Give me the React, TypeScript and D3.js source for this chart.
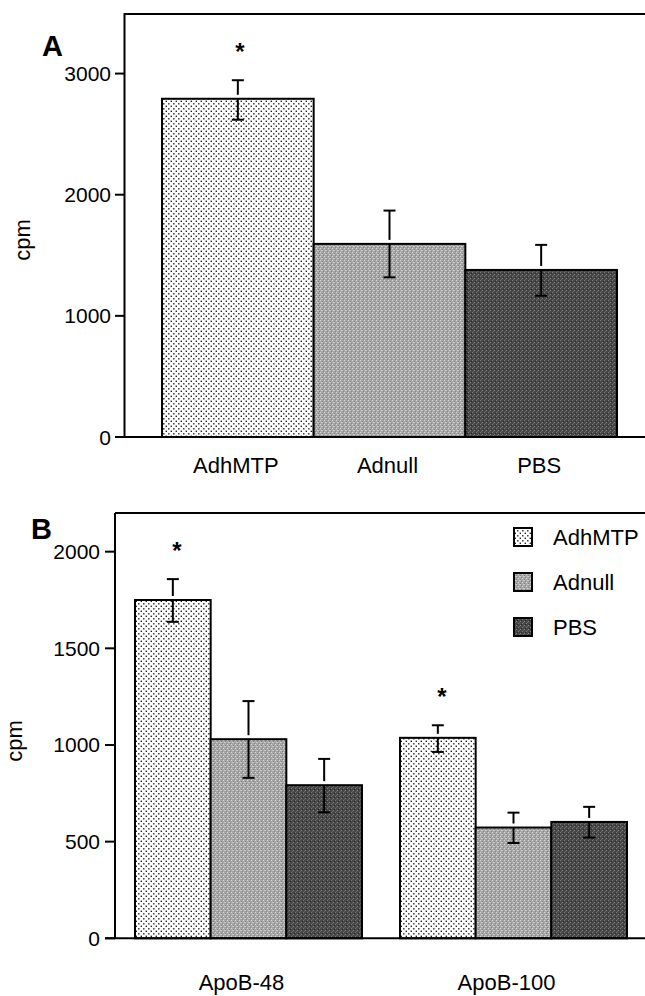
import React from 'react';
import * as d3 from 'd3';

// panel A: total counts per treatment
const categoriesA = ['AdhMTP', 'Adnull', 'PBS'];
const valuesA = [2792, 1594, 1379];
const errHighA = [2945, 1869, 1586];
const errLowA = [2619, 1318, 1166];
const starsA = [true, false, false];
const ticksA = [0, 1000, 2000, 3000];

// panel B: apoB-48 / apoB-100 split
const groupsB = ['ApoB-48', 'ApoB-100'];
const seriesB = ['AdhMTP', 'Adnull', 'PBS'];
const adhMTPB = [1750, 1037];
const adnullB = [1030, 573];
const pbsB = [792, 602];
const adhMTPHighB = [1858, 1102];
const adnullHighB = [1227, 650];
const pbsHighB = [928, 680];
const adhMTPLowB = [1637, 964];
const adnullLowB = [830, 493];
const pbsLowB = [652, 521];
const starsB = [[true, true], [false, false], [false, false]];
const ticksB = [0, 500, 1000, 1500, 2000];

const FONT = '"Liberation Sans", Arial, Helvetica, sans-serif';
const fills = ['url(#dots)', 'url(#midgray)', 'url(#darkgray)'];

// stem is broken just above the bar top, like in the printed figure
const ErrorBar = ({ x, hi, top, lo }: { x: number; hi: number; top: number; lo: number }) => (
  <g stroke="#000" strokeWidth={2}>
    <line x1={x} x2={x} y1={hi} y2={top - 4} />
    <line x1={x} x2={x} y1={top} y2={lo} />
    <line x1={x - 6} x2={x + 6} y1={hi} y2={hi} />
    <line x1={x - 6} x2={x + 6} y1={lo} y2={lo} />
  </g>
);

const Star = ({ x, y }: { x: number; y: number }) => (
  <text x={x} y={y} textAnchor="middle" fontFamily={FONT} fontWeight="bold" fontSize={24}>*</text>
);

const App = () => {
  // ---- panel A scales
  const xA = d3.scaleBand<string>().domain(categoriesA).range([162, 617]).padding(0);
  const yA = d3.scaleLinear().domain([0, 3500]).range([437, 13]);
  const axisXA = 124.5;

  // ---- panel B scales
  const xB = d3.scaleBand<string>().domain(groupsB).range([135, 627]).paddingInner(0.1434).paddingOuter(0);
  const xBInner = d3.scaleBand<string>().domain(seriesB).range([0, xB.bandwidth()]).padding(0);
  const yB = d3.scaleLinear().domain([0, 2200]).range([938.3, 513]);
  const axisXB = 115;

  const valsB = [adhMTPB, adnullB, pbsB];
  const hiB = [adhMTPHighB, adnullHighB, pbsHighB];
  const loB = [adhMTPLowB, adnullLowB, pbsLowB];

  return (
    <svg width={645} height={996} style={{ position: 'absolute', left: 0, top: 0, background: '#fff' }}>
      <defs>
        <pattern id="dots" width={5} height={5} patternUnits="userSpaceOnUse">
          <rect width={5} height={5} fill="#fff" />
          <rect x={0.6} y={0.6} width={1.4} height={1.4} fill="#222" />
          <rect x={3.1} y={3.1} width={1.4} height={1.4} fill="#222" />
        </pattern>
        <pattern id="midgray" width={4} height={4} patternUnits="userSpaceOnUse">
          <rect width={4} height={4} fill="#a6a6a6" />
          <rect x={0} y={0} width={1} height={1} fill="#d8d8d8" />
          <rect x={2} y={1} width={1} height={1} fill="#7e7e7e" />
          <rect x={1} y={2} width={2} height={1} fill="#cacaca" />
          <rect x={3} y={3} width={1} height={1} fill="#858585" />
        </pattern>
        <pattern id="darkgray" width={4} height={4} patternUnits="userSpaceOnUse">
          <rect width={4} height={4} fill="#474747" />
          <rect x={0} y={0} width={1} height={1} fill="#7a7a7a" />
          <rect x={2} y={2} width={1} height={1} fill="#858585" />
          <rect x={3} y={1} width={1} height={1} fill="#262626" />
          <rect x={1} y={3} width={1} height={1} fill="#666" />
        </pattern>
      </defs>

      {/* ================= Panel A ================= */}
      <g fontFamily={FONT}>
        <text x={42} y={56} fontWeight="bold" fontSize={29}>A</text>
        <text transform={`translate(30,240) rotate(-90)`} textAnchor="middle" fontSize={22}>cpm</text>

        {categoriesA.map((c, i) => (
          <rect key={c} x={xA(c)} y={yA(valuesA[i])} width={xA.bandwidth()} height={yA(0) - yA(valuesA[i])}
            fill={fills[i]} stroke="#000" strokeWidth={2} />
        ))}
        {categoriesA.map((c, i) => {
          const cx = (xA(c) as number) + xA.bandwidth() / 2;
          return (
            <g key={c + 'e'}>
              <ErrorBar x={cx} hi={yA(errHighA[i])} top={yA(valuesA[i])} lo={yA(errLowA[i])} />
              {starsA[i] && <Star x={cx + 2} y={yA(errHighA[i]) - 20} />}
              <text x={cx - 2} y={473} textAnchor="middle" fontSize={22}>{c}</text>
            </g>
          );
        })}

        {/* axes */}
        <line x1={axisXA} x2={645} y1={yA(3500) + 1} y2={yA(3500) + 1} stroke="#000" strokeWidth={2} />
        <line x1={axisXA} x2={axisXA} y1={yA(3500)} y2={yA(0)} stroke="#000" strokeWidth={2} />
        <line x1={115} x2={645} y1={yA(0)} y2={yA(0)} stroke="#000" strokeWidth={2} />
        {ticksA.map(t => (
          <g key={t}>
            <line x1={115} x2={axisXA} y1={yA(t)} y2={yA(t)} stroke="#000" strokeWidth={2} />
            <text x={111} y={yA(t) + 7.5} textAnchor="end" fontSize={21}>{t}</text>
          </g>
        ))}
      </g>

      {/* ================= Panel B ================= */}
      <g fontFamily={FONT}>
        <text x={31} y={539} fontWeight="bold" fontSize={29}>B</text>
        <text transform={`translate(22,741) rotate(-90)`} textAnchor="middle" fontSize={22}>cpm</text>

        {groupsB.map((g, gi) => (
          <g key={g} transform={`translate(${xB(g)},0)`}>
            {seriesB.map((s, si) => (
              <rect key={s} x={xBInner(s)} y={yB(valsB[si][gi])} width={xBInner.bandwidth()}
                height={yB(0) - yB(valsB[si][gi])} fill={fills[si]} stroke="#000" strokeWidth={2} />
            ))}
            {seriesB.map((s, si) => {
              const cx = (xBInner(s) as number) + xBInner.bandwidth() / 2;
              return (
                <g key={s + 'e'}>
                  <ErrorBar x={cx} hi={yB(hiB[si][gi])} top={yB(valsB[si][gi])} lo={yB(loB[si][gi])} />
                  {starsB[si][gi] && <Star x={cx + 4} y={yB(hiB[si][gi]) - 20} />}
                </g>
              );
            })}
            <text x={xB.bandwidth() / 2 - 7} y={990} textAnchor="middle" fontSize={22}>{g}</text>
          </g>
        ))}

        {/* legend */}
        {seriesB.map((s, si) => (
          <g key={s} transform={`translate(514,${537 + si * 45})`}>
            <rect x={0} y={-9} width={18} height={18} fill={fills[si]} stroke="#000" strokeWidth={2} />
            <text x={39} y={7.5} fontSize={22}>{s}</text>
          </g>
        ))}

        {/* axes */}
        <line x1={axisXB} x2={645} y1={yB(2200)} y2={yB(2200)} stroke="#000" strokeWidth={2} />
        <line x1={axisXB} x2={axisXB} y1={yB(2200)} y2={yB(0)} stroke="#000" strokeWidth={2} />
        <line x1={105} x2={645} y1={yB(0)} y2={yB(0)} stroke="#000" strokeWidth={2} />
        {ticksB.map(t => (
          <g key={t}>
            <line x1={105} x2={axisXB} y1={yB(t)} y2={yB(t)} stroke="#000" strokeWidth={2} />
            <text x={100} y={yB(t) + 7.5} textAnchor="end" fontSize={21}>{t}</text>
          </g>
        ))}
      </g>
    </svg>
  );
};

export default App;
